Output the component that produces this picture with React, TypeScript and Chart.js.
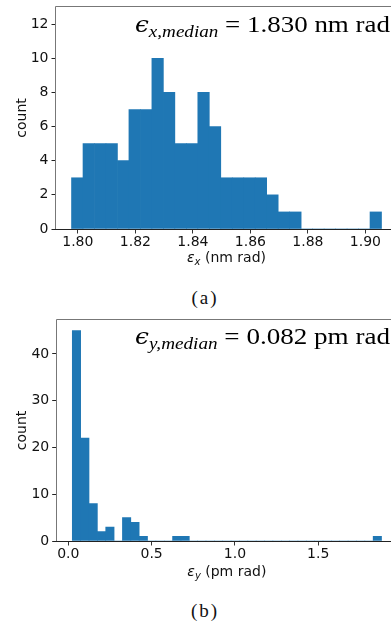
import React, { useEffect, useRef } from 'react';
import { Chart, registerables } from 'chart.js';

Chart.register(...registerables);

// ---- Data: panel (a) epsilon_x histogram ----
const exBinStart = 1.7978;
const exBinWidth = 0.003993;
const exCounts = [3, 5, 5, 5, 4, 7, 7, 10, 8, 5, 5, 8, 6, 3, 3, 3, 3, 2, 1, 1, 0, 0, 0, 0, 0, 0, 1];
const exXTicks = [1.8, 1.82, 1.84, 1.86, 1.88, 1.9];
const exXTickLabels = ['1.80', '1.82', '1.84', '1.86', '1.88', '1.90'];
const exYTicks = [0, 2, 4, 6, 8, 10, 12];
const exXMin = 1.7924;
const exXMax = 1.911;
const exYMax = 13;
const exMedianText = ' = 1.830 nm rad';

// ---- Data: panel (b) epsilon_y histogram ----
const eyBinStart = 0.024;
const eyBinWidth = 0.05016;
const eyCounts = [
  45, 22, 8, 2, 3, 0, 5, 4, 1, 0, 0, 0, 1, 1, 0, 0, 0, 0, 0,
  0, 0, 0, 0, 0, 0, 0, 0, 0, 0, 0, 0, 0, 0, 0, 0, 0, 1,
];
const eyXTicks = [0, 0.5, 1.0, 1.5];
const eyXTickLabels = ['0.0', '0.5', '1.0', '1.5'];
const eyYTicks = [0, 10, 20, 30, 40];
const eyXMin = -0.0696;
const eyXMax = 1.9728;
const eyYMax = 47.25;
const eyMedianText = ' = 0.082 pm rad';

type Part = { t: string; font: string; dy: number };

function drawParts(
  ctx: CanvasRenderingContext2D,
  parts: Part[],
  x: number,
  y: number,
  align: 'left' | 'center',
  targetWidth?: number
) {
  let total = 0;
  const widths: number[] = [];
  for (const p of parts) {
    ctx.font = p.font;
    const w = ctx.measureText(p.t).width;
    widths.push(w);
    total += w;
  }
  const sx = targetWidth ? targetWidth / total : 1;
  const start = align === 'center' ? x - (total * sx) / 2 : x;
  ctx.save();
  ctx.translate(start, y);
  ctx.scale(sx, 1);
  ctx.textAlign = 'left';
  ctx.textBaseline = 'alphabetic';
  let cx = 0;
  parts.forEach((p, i) => {
    ctx.font = p.font;
    ctx.fillText(p.t, cx, p.dy);
    cx += widths[i];
  });
  ctx.restore();
}

type HistProps = {
  top: number;
  height: number;
  padTop: number;
  yAxisWidth: number;
  xAxisHeight: number;
  counts: number[];
  binStart: number;
  binWidth: number;
  xMin: number;
  xMax: number;
  yMax: number;
  xTicks: number[];
  xTickLabels: string[];
  yTicks: number[];
  annot: Part[];
  annotBaseline: number;
  xTitle: Part[];
  xTitleBaseline: number;
};

const CANVAS_W = 410;
const SANS = '"DejaVu Sans"';

function Hist(props: HistProps) {
  const ref = useRef<HTMLCanvasElement | null>(null);
  useEffect(() => {
    const canvas = ref.current;
    if (!canvas) return;
    const points = props.counts.map((c, i) => ({ x: props.binStart + (i + 0.5) * props.binWidth, y: c }));
    const spinePlugin = {
      id: 'spines',
      afterDraw(chart: any) {
        const { ctx, chartArea } = chart;
        const { left, right, top, bottom } = chartArea;
        const L = Math.round(left) - 0.5;
        const T = Math.round(top) - 0.5;
        const R = Math.round(right) + 0.5;
        const B = Math.round(bottom) + 0.5;
        ctx.save();
        ctx.lineWidth = 1;
        ctx.strokeStyle = '#777';
        ctx.beginPath();
        ctx.moveTo(L, B);
        ctx.lineTo(L, T);
        ctx.lineTo(R, T);
        ctx.lineTo(R, B);
        ctx.stroke();
        ctx.strokeStyle = '#222';
        ctx.beginPath();
        ctx.moveTo(L - 0.5, B);
        ctx.lineTo(R + 0.5, B);
        ctx.stroke();
        ctx.fillStyle = '#000';
        drawParts(ctx, props.annot, 135, props.annotBaseline, 'left', 255);
        ctx.fillStyle = '#111';
        const xs = chart.scales.x;
        const cx = xs.getPixelForValue((props.xMin + props.xMax) / 2);
        drawParts(ctx, props.xTitle, cx, props.xTitleBaseline, 'center');
        ctx.restore();
      },
    };
    const chart = new Chart(canvas, {
      type: 'bar',
      data: {
        datasets: [
          {
            data: points as any,
            backgroundColor: '#1f77b4',
            borderWidth: 0,
            barPercentage: 1,
            categoryPercentage: 1,
          },
        ],
      },
      options: {
        animation: false,
        responsive: false,
        events: [],
        layout: { padding: { top: props.padTop, right: CANVAS_W - 397, left: 0, bottom: 0 } },
        plugins: { legend: { display: false }, tooltip: { enabled: false }, title: { display: false } },
        scales: {
          x: {
            type: 'linear',
            min: props.xMin,
            max: props.xMax,
            offset: false,
            border: { display: false },
            grid: {
              display: true,
              offset: false,
              drawOnChartArea: false,
              drawTicks: true,
              tickLength: 4.5,
              tickColor: '#333',
              tickWidth: 1,
            },
            ticks: {
              autoSkip: false,
              maxRotation: 0,
              minRotation: 0,
              padding: 0.5,
              color: '#111',
              font: { family: SANS, size: 14 },
              callback: (_v: any, i: number) => props.xTickLabels[i],
            },
            afterBuildTicks: (scale: any) => {
              scale.ticks = props.xTicks.map((v) => ({ value: v }));
            },
            afterFit: (scale: any) => {
              scale.height = props.xAxisHeight;
              scale.paddingLeft = 0;
              scale.paddingRight = 0;
            },
          } as any,
          y: {
            type: 'linear',
            min: 0,
            max: props.yMax,
            border: { display: false },
            grid: {
              display: true,
              drawOnChartArea: false,
              drawTicks: true,
              tickLength: 4.5,
              tickColor: '#222',
              tickWidth: 1,
            },
            ticks: {
              padding: 3,
              color: '#111',
              font: { family: SANS, size: 14 },
              callback: (v: any) => String(v),
            },
            title: {
              display: true,
              text: 'count',
              color: '#111',
              font: { family: SANS, size: 14 },
              padding: { top: 13.5, bottom: 0 },
            },
            afterBuildTicks: (scale: any) => {
              scale.ticks = props.yTicks.map((v) => ({ value: v }));
            },
            afterFit: (scale: any) => {
              scale.width = props.yAxisWidth;
              scale.paddingTop = 0;
              scale.paddingBottom = 0;
            },
          } as any,
        },
      },
      plugins: [spinePlugin],
    });
    return () => chart.destroy();
  }, []);
  return (
    <canvas
      ref={ref}
      width={CANVAS_W}
      height={props.height}
      style={{ position: 'absolute', left: 0, top: props.top, width: CANVAS_W, height: props.height }}
    />
  );
}

const captionStyle = (top: number): React.CSSProperties => ({
  position: 'absolute',
  left: 0,
  width: 410,
  top,
  textAlign: 'center',
  fontFamily: '"Liberation Serif", "Times New Roman", serif',
  fontSize: 19,
  lineHeight: '19px',
  letterSpacing: 2,
  color: '#111',
});

export default function App() {
  const serif = '"Liberation Serif"';
  const annotA: Part[] = [
    { t: 'ϵ', font: `italic 22px "DejaVu Serif"`, dy: 0 },
    { t: 'x,median', font: `italic 17px ${serif}`, dy: 5 },
    { t: exMedianText, font: `24px ${serif}`, dy: 0 },
  ];
  const annotB: Part[] = [
    { t: 'ϵ', font: `italic 22px "DejaVu Serif"`, dy: 0 },
    { t: 'y,median', font: `italic 17px ${serif}`, dy: 5 },
    { t: eyMedianText, font: `24px ${serif}`, dy: 0 },
  ];
  const titleA: Part[] = [
    { t: 'ε', font: `italic 14px ${SANS}`, dy: 0 },
    { t: 'x', font: `italic 10px ${SANS}`, dy: 2.5 },
    { t: ' (nm rad)', font: `14px ${SANS}`, dy: 0 },
  ];
  const titleB: Part[] = [
    { t: 'ε', font: `italic 14px ${SANS}`, dy: 0 },
    { t: 'y', font: `italic 10px ${SANS}`, dy: 2.5 },
    { t: ' (pm rad)', font: `14px ${SANS}`, dy: 0 },
  ];
  return (
    <div
      style={{
        position: 'fixed',
        left: 0,
        top: 0,
        width: 391,
        height: 628,
        overflow: 'hidden',
        background: '#fff',
      }}
    >
      <Hist
        top={0}
        height={272}
        padTop={7}
        yAxisWidth={56}
        xAxisHeight={43}
        counts={exCounts}
        binStart={exBinStart}
        binWidth={exBinWidth}
        xMin={exXMin}
        xMax={exXMax}
        yMax={exYMax}
        xTicks={exXTicks}
        xTickLabels={exXTickLabels}
        yTicks={exYTicks}
        annot={annotA}
        annotBaseline={32}
        xTitle={titleA}
        xTitleBaseline={262}
      />
      <div style={captionStyle(288)}>(a)</div>
      <Hist
        top={300}
        height={285}
        padTop={20}
        yAxisWidth={56.7}
        xAxisHeight={44}
        counts={eyCounts}
        binStart={eyBinStart}
        binWidth={eyBinWidth}
        xMin={eyXMin}
        xMax={eyXMax}
        yMax={eyYMax}
        xTicks={eyXTicks}
        xTickLabels={eyXTickLabels}
        yTicks={eyYTicks}
        annot={annotB}
        annotBaseline={44}
        xTitle={titleB}
        xTitleBaseline={276}
      />
      <div style={captionStyle(601)}>(b)</div>
    </div>
  );
}
